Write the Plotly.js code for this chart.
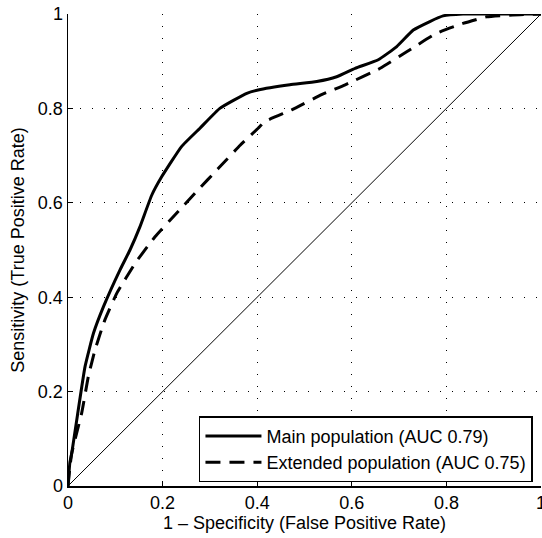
<!DOCTYPE html>
<html>
<head>
<meta charset="utf-8">
<script src="https://cdn.plot.ly/plotly-3.0.1.min.js"></script>
<style>html,body{margin:0;padding:0;background:#fff;}#chart{width:542px;height:538px;}</style>
</head>
<body>
<div id="chart"></div>
<script>
var mainFPR = [0, 0.004, 0.008, 0.02, 0.036, 0.054, 0.075, 0.11, 0.131, 0.152, 0.177, 0.198, 0.24, 0.279, 0.321, 0.378, 0.402, 0.469, 0.526, 0.568, 0.607, 0.656, 0.695, 0.73, 0.765, 0.793, 0.835, 0.9, 1.0];
var mainTPR = [0, 0.05, 0.07, 0.15, 0.253, 0.324, 0.38, 0.458, 0.5, 0.549, 0.616, 0.655, 0.719, 0.758, 0.80, 0.832, 0.839, 0.85, 0.857, 0.867, 0.885, 0.903, 0.931, 0.966, 0.984, 0.996, 1, 1, 1];
var extFPR = [0, 0.004, 0.008, 0.029, 0.043, 0.057, 0.078, 0.103, 0.142, 0.184, 0.226, 0.272, 0.318, 0.364, 0.402, 0.416, 0.473, 0.536, 0.586, 0.66, 0.716, 0.779, 0.835, 0.885, 0.94, 1];
var extTPR = [0, 0.04, 0.07, 0.155, 0.232, 0.288, 0.352, 0.408, 0.472, 0.528, 0.574, 0.624, 0.673, 0.722, 0.758, 0.772, 0.797, 0.829, 0.85, 0.885, 0.92, 0.959, 0.98, 0.994, 0.998, 1];
var diagX = [0, 1];
var diagY = [0, 1];
var tickVals = [0, 0.2, 0.4, 0.6, 0.8, 1];
var tickText = ["0", "0.2", "0.4", "0.6", "0.8", "1"];
var names = ["Main population (AUC 0.79)", "Extended population (AUC 0.75)"];

var font = {family: "Liberation Sans, Arial, sans-serif", size: 18, color: "#000"};

var traces = [
  {x: mainFPR, y: mainTPR, mode: "lines", name: names[0],
   line: {color: "#000", width: 3, shape: "spline", smoothing: 0.4}},
  {x: extFPR, y: extTPR, mode: "lines", name: names[1],
   line: {color: "#000", width: 3, dash: "15px,9px", shape: "spline", smoothing: 0.4}},
  {x: diagX, y: diagY, mode: "lines", showlegend: false, hoverinfo: "skip",
   line: {color: "#000", width: 1}}
];

var axisCommon = {
  range: [0, 1], tickvals: tickVals, ticktext: tickText,
  showline: true, linecolor: "#000", linewidth: 1.5,
  ticks: "inside", ticklen: 5, tickwidth: 1, tickcolor: "#000",
  showgrid: true, gridcolor: "#000", gridwidth: 1, griddash: "1px,11px",
  zeroline: false, tickfont: font, fixedrange: true, ticklabeloverflow: "allow"
};

var layout = {
  width: 542, height: 538,
  margin: {l: 68, r: 1, t: 14, b: 52},
  paper_bgcolor: "#fff", plot_bgcolor: "#fff",
  font: font,
  showlegend: true,
  xaxis: Object.assign({}, axisCommon, {
    title: {text: "1 – Specificity (False Positive Rate)", font: font, standoff: 2}
  }),
  yaxis: Object.assign({}, axisCommon, {
    title: {text: "Sensitivity (True Positive Rate)", font: font, standoff: 8}
  }),
  legend: {
    x: 0.983, xanchor: "right", y: 0.008, yanchor: "bottom",
    bgcolor: "#fff", bordercolor: "#000", borderwidth: 1.5,
    font: font, traceorder: "normal", tracegroupgap: 0, itemwidth: 56
  }
};

Plotly.newPlot("chart", traces, layout, {staticPlot: true, displayModeBar: false});
</script>
</body>
</html>
